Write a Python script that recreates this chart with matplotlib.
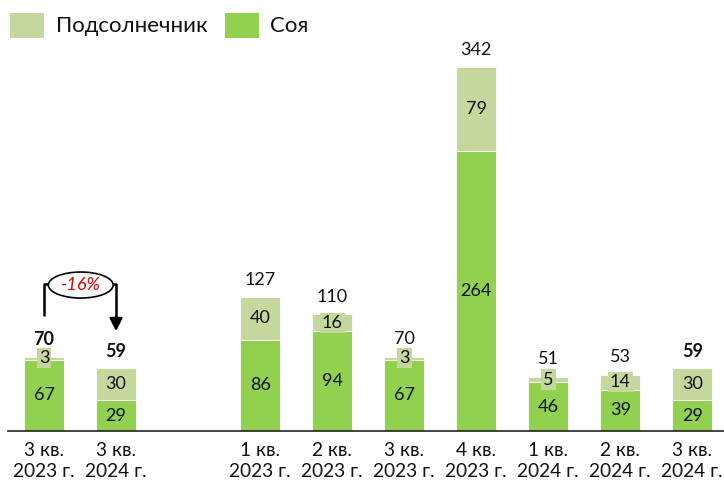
import matplotlib
matplotlib.use("Agg")
import matplotlib.pyplot as plt
from matplotlib.patches import Ellipse, Rectangle

plt.rcParams['font.family'] = ['Lato', 'DejaVu Sans']

categories = ["3 кв.\n2023 г.", "3 кв.\n2024 г.", "1 кв.\n2023 г.", "2 кв.\n2023 г.",
              "3 кв.\n2023 г.", "4 кв.\n2023 г.", "1 кв.\n2024 г.", "2 кв.\n2024 г.",
              "3 кв.\n2024 г."]
positions = [0, 1, 3, 4, 5, 6, 7, 8, 9]
soy = [67, 29, 86, 94, 67, 264, 46, 39, 29]
sunflower = [3, 30, 40, 16, 3, 79, 5, 14, 30]
totals = [70, 59, 127, 110, 70, 342, 51, 53, 59]
bold_totals = [True, True, False, False, False, False, False, False, True]
series_names = ["Подсолнечник", "Соя"]
change_label = "-16%"

c_soy = "#92D050"
c_sun = "#C4D89E"

W, H = 724, 480
fig = plt.figure(figsize=(W / 100, H / 100), dpi=100)
ax = fig.add_axes([8 / W, 49 / H, 716 / W, 431 / H])

w = 0.56
ax.bar(positions, soy, width=w, color=c_soy, edgecolor="white", linewidth=0.6, zorder=2)
ax.bar(positions, sunflower, width=w, bottom=soy, color=c_sun, edgecolor="white", linewidth=0.6, zorder=2)

fs = 13
for x, s, f, t, b in zip(positions, soy, sunflower, totals, bold_totals):
    ax.text(x, s / 2, str(s), ha="center", va="center", fontsize=fs, color="#111111", zorder=4)
    ax.text(x, s + f / 2, str(f), ha="center", va="center", fontsize=fs, color="#111111", zorder=4,
            bbox=dict(boxstyle="square,pad=0.12", facecolor=c_sun, edgecolor="none"))
    ax.annotate(str(t), (x, s + f), xytext=(0, 12.5), textcoords="offset points",
                ha="center", va="center", fontsize=fs, color="#111111",
                fontweight="bold" if b else "normal", zorder=4)

ax.set_xlim(-0.5, 9.44)
ax.set_ylim(0, 406)
ax.set_xticks(positions)
ax.set_xticklabels(categories, fontsize=13.8, color="#111111", linespacing=1.3)
ax.tick_params(axis="x", length=0, pad=8)
ax.set_yticks([])
for sp in ["top", "right", "left"]:
    ax.spines[sp].set_visible(False)
ax.spines["bottom"].set_color("#222222")
ax.spines["bottom"].set_linewidth(1.2)

# change annotation
ax.plot([0, 0, 0.08], [108, 138.5, 138.5], color="black", lw=1.8, zorder=3, solid_capstyle="butt")
ax.plot([0.92, 1, 1], [138.5, 138.5, 106], color="black", lw=1.8, zorder=3, solid_capstyle="butt")
ax.annotate("", xy=(1, 94), xytext=(1, 108),
            arrowprops=dict(arrowstyle="-|>,head_length=0.75,head_width=0.38", color="black", lw=1.8,
                            shrinkA=0, shrinkB=0), zorder=3)
ax.add_patch(Ellipse((0.51, 137.5), 0.9, 24.5, facecolor="white", edgecolor="black", lw=1.2, zorder=3))
ax.text(0.51, 137.5, change_label, ha="center", va="center", fontsize=13, color="#E00000",
        style="italic", zorder=4)

# legend
leg_items = [(10, 56, c_sun, series_names[0]), (225, 270, c_soy, series_names[1])]
for px, tx, col, lab in leg_items:
    fig.patches.append(Rectangle((px / W, 1 - 38 / H), 34 / W, 25 / H, transform=fig.transFigure,
                                 facecolor=col, edgecolor="none", figure=fig))
    fig.text(tx / W, 1 - 26 / H, lab, ha="left", va="center", fontsize=16, color="#111111")

fig.savefig("out.png", dpi=100)
